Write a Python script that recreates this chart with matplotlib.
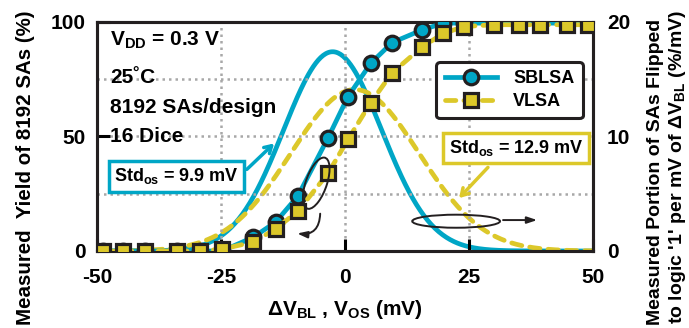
import numpy as np
import matplotlib
matplotlib.use("Agg")
import matplotlib.pyplot as plt
from matplotlib.patches import Ellipse

plt.rcParams['font.family'] = ['Liberation Sans', 'DejaVu Sans']
plt.rcParams['font.weight'] = 'bold'
plt.rcParams['mathtext.fontset'] = 'custom'
plt.rcParams['mathtext.rm'] = 'Liberation Sans:bold'
plt.rcParams['mathtext.it'] = 'Liberation Sans:bold'
plt.rcParams['mathtext.bf'] = 'Liberation Sans:bold'

CYAN = '#00A6C6'
YELLOW = '#DCC82A'
INK = '#231F20'

# measured yield vs. input offset (mV, %)
dv_bl = [-48.8, -44.8, -40.3, -33.9, -29.2, -24.8, -18.5, -14.0, -9.5, -3.4, 0.6,
         5.2, 9.5, 15.5, 19.8, 24.0, 30.0, 35.0, 39.3, 44.8, 49.0]
sblsa_yield = [0, 0, 0, 0, 0, 0, 6.0, 12.6, 24.0, 49.5, 67.4,
               82.0, 91.0, 96.5, 99.5, 99.5, 99.5, 99.5, 99.5, 99.5, 99.5]
vlsa_yield = [0, 0, 0, 0, 0, 0.8, 3.9, 9.6, 17.4, 34.0, 48.7,
              64.8, 77.8, 89.0, 95.0, 98.0, 98.8, 98.8, 98.8, 98.8, 98.8]

# gaussian fits of the offset distribution (mean mV, std mV, peak %/mV)
sblsa_mu, sblsa_std, sblsa_peak = -2.5, 9.9, 17.4
vlsa_mu, vlsa_std, vlsa_peak = 2.0, 12.9, 14.1

fig = plt.figure(figsize=(6.89, 3.28), dpi=100)
ax = fig.add_axes([0.1408, 0.2348, 0.7199, 0.6982])
ax2 = ax.twinx()

ax.set_xlim(-50, 50)
ax.set_ylim(0, 100)
ax2.set_ylim(0, 20)

for g in [-25, 0, 25]:
    ax.axvline(g, color='#A8A8A8', lw=1.8, ls=(0, (1, 1.6)), zorder=0)
for g in [25, 50, 75]:
    ax.axhline(g, color='#A8A8A8', lw=1.8, ls=(0, (1, 1.6)), zorder=0)

# fitted distributions (right axis)
xs = np.linspace(-50, 50, 400)
pdf_s = sblsa_peak * np.exp(-0.5 * ((xs - sblsa_mu) / sblsa_std) ** 2)
pdf_v = vlsa_peak * np.exp(-0.5 * ((xs - vlsa_mu) / vlsa_std) ** 2)
ax2.plot(xs, pdf_s, color=CYAN, lw=3.4, solid_capstyle='round', zorder=2)
ax2.plot(xs, pdf_v, color=YELLOW, lw=3.4, ls=(0, (2.2, 1.7)), dash_capstyle='round', zorder=2)

# measured yield (left axis)
l1, = ax.plot(dv_bl, sblsa_yield, color=CYAN, lw=3.4, marker='o', ms=10.5,
              mfc=CYAN, mec=INK, mew=2.3, label='SBLSA', zorder=3)
l2, = ax.plot(dv_bl, vlsa_yield, color=YELLOW, lw=3.4, ls=(0, (2.2, 1.7)),
              dash_capstyle='round', marker='s', ms=10.5, mfc=YELLOW, mec=INK,
              mew=2.3, label='VLSA', zorder=4)
ax.set_zorder(ax2.get_zorder() + 1)
ax.patch.set_visible(False)

for a in (ax, ax2):
    for s in a.spines.values():
        s.set_linewidth(2.2)
        s.set_color(INK)

ax.set_xticks([-50, -25, 0, 25, 50])
ax.set_xticklabels(['-50', '-25', '0', '25', '50'])
ax.set_yticks([0, 50, 100])
ax2.set_yticks([0, 10, 20])
ax.tick_params(axis='both', direction='in', length=9, width=2.2, labelsize=15, pad=8)
ax.tick_params(axis='x', pad=12)
ax2.tick_params(axis='y', direction='in', length=0, labelsize=15, pad=10)

fig.text(0.5, 0.055, 'ΔV$_{\\mathrm{BL}}$ , V$_{\\mathrm{OS}}$ (mV)', fontsize=15,
         ha='center', va='center')
fig.text(0.037, 0.488, 'Measured  Yield of 8192 SAs (%)', fontsize=14.8,
         rotation=90, ha='center', va='center')
fig.text(0.952, 0.475, 'Measured Portion of SAs Flipped', fontsize=14,
         rotation=90, ha='center', va='center')
fig.text(0.983, 0.49, "to logic '1' per mV of ΔV$_{\\mathrm{BL}}$ (%/mV)", fontsize=14,
         rotation=90, ha='center', va='center')

ax.text(0.026, 0.92, 'V$_{\\mathrm{DD}}$ = 0.3 V', transform=ax.transAxes, fontsize=15, va='center')
ax.text(0.026, 0.757, '25˚C', transform=ax.transAxes, fontsize=15, va='center')
ax.text(0.026, 0.626, '8192 SAs/design', transform=ax.transAxes, fontsize=15, va='center')
ax.text(0.026, 0.50, '16 Dice', transform=ax.transAxes, fontsize=15, va='center')

ax.annotate('', xy=(-13.9, 47.8), xytext=(-20.2, 34.8),
            arrowprops=dict(arrowstyle='->,head_length=0.5,head_width=0.3', color=CYAN, lw=2.5),
            zorder=5)
ax.text(-34, 32.6, 'Std$_{\\mathrm{os}}$ = 9.9 mV', fontsize=13, ha='center', va='center', zorder=6,
        bbox=dict(boxstyle='square,pad=0.3', fc='white', ec=CYAN, lw=2.5))
ax.annotate('', xy=(22.6, 22.2), xytext=(29.2, 37.4),
            arrowprops=dict(arrowstyle='->,head_length=0.5,head_width=0.3', color=YELLOW, lw=2.5),
            zorder=5)
ax.text(34.5, 45, 'Std$_{\\mathrm{os}}$ = 12.9 mV', fontsize=13, ha='center', va='center', zorder=6,
        bbox=dict(boxstyle='square,pad=0.3', fc='white', ec=YELLOW, lw=2.5))

# ellipses marking which curves belong to which axis
ax.add_patch(Ellipse((-5.8, 29.6), 4.4, 22.6, angle=-8, fill=False, ec=INK, lw=1.4, zorder=6))
ax.annotate('', xy=(-10.2, 7.8), xytext=(-5.0, 17.5),
            arrowprops=dict(arrowstyle='-|>,head_length=0.6,head_width=0.2', color=INK, lw=1.4,
                            connectionstyle='arc3,rad=-0.6'), zorder=6)
ax.add_patch(Ellipse((22.4, 13.0), 17.7, 5.7, fill=False, ec=INK, lw=1.4, zorder=6))
ax.annotate('', xy=(39.3, 13.5), xytext=(31.3, 13.5),
            arrowprops=dict(arrowstyle='-|>,head_length=0.6,head_width=0.2', color=INK, lw=1.4),
            zorder=6)

leg = ax.legend(handles=[l1, l2], loc='upper right', bbox_to_anchor=(0.997, 0.865),
                fontsize=13, handlelength=2.9, handletextpad=0.9, borderpad=0.45,
                labelspacing=0.35, frameon=True, fancybox=True, framealpha=1)
leg.get_frame().set_edgecolor(INK)
leg.get_frame().set_linewidth(2.2)
leg.set_zorder(10)

fig.savefig('out.png', dpi=100)
